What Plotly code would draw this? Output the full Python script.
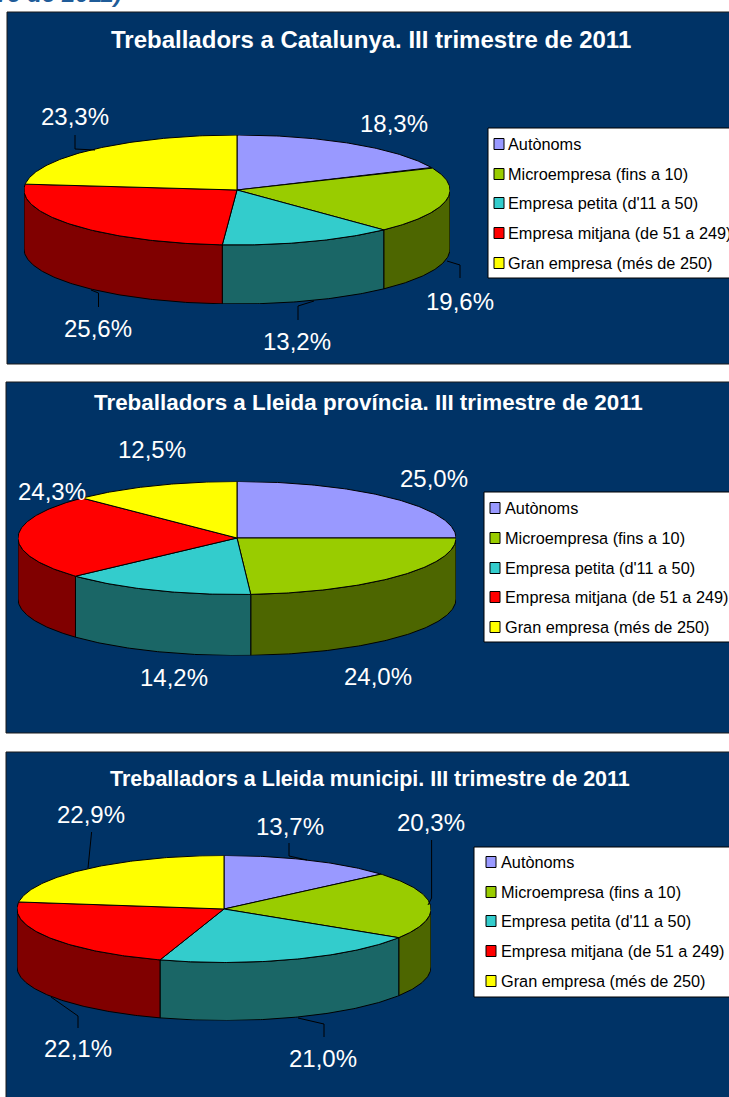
import math
import plotly.graph_objects as go

W, H = 729, 1097

# ---- data ----
categories = ["Autònoms", "Microempresa (fins a 10)", "Empresa petita (d'11 a 50)",
              "Empresa mitjana (de 51 a 249)", "Gran empresa (més de 250)"]
catalunya = [18.3, 19.6, 13.2, 25.6, 23.3]
lleida_provincia = [25.0, 24.0, 14.2, 24.3, 12.5]
lleida_municipi = [13.7, 20.3, 21.0, 22.1, 22.9]
titles = ["Treballadors a Catalunya. III trimestre de 2011",
          "Treballadors a Lleida província. III trimestre de 2011",
          "Treballadors a Lleida municipi. III trimestre de 2011"]
series = [catalunya, lleida_provincia, lleida_municipi]

# ---- style / layout (pixel positions of the frames) ----
top_colors = ["#9999FF", "#99CC00", "#33CCCC", "#FF0000", "#FFFF00"]
side_colors = ["#4D4D80", "#4D6600", "#1A6666", "#800000", "#808000"]
NAVY = "#003366"
panels = [
    dict(x0=7, y0=12, y1=364, cx=237, cy=190, rx=213, ry=55, depth=59, title_x=371, title_y=40, title_size=24,
         legend=(488, 128, 278), swatch_x=494, text_x=506, rows=[144, 174, 203, 233, 263],
         labels=[(394, 124), (460, 301), (297, 341), (98, 329), (75, 117)],
         leaders=[[], [(447, 261), (460, 265), (460, 278)], [(298, 320), (298, 306), (314, 301)],
                  [(98.5, 307), (98.5, 293), (91, 290)], [(75, 135), (75, 149), (95, 150)]]),
    dict(x0=6, y0=382, y1=733, cx=237, cy=538, rx=219, ry=56.5, depth=61, title_x=368.5, title_y=402, title_size=22.4,
         legend=(484, 492, 642), swatch_x=490, text_x=503, rows=[508, 538, 568, 597, 627],
         labels=[(434, 478), (378, 676), (174, 677), (52, 491), (152, 450)],
         leaders=[[], [], [], [], []]),
    dict(x0=6, y0=752, y1=1110, cx=224, cy=909, rx=207, ry=53.5, depth=58, title_x=370, title_y=779, title_size=21.5,
         legend=(474, 847, 997), swatch_x=486, text_x=499, rows=[862, 892, 921, 951, 981],
         labels=[(290, 826), (431, 822), (323, 1058), (78, 1048), (91, 814)],
         leaders=[[(289, 843), (289, 856), (307, 860)], [(431.6, 840), (431.6, 898), (428, 905)],
                  [(324, 1037), (324, 1024), (298, 1018)], [(78, 1028), (78, 1016), (51, 997)],
                  [(91.6, 832), (88, 868)]]),
]
FONT = "Liberation Sans, Arial, sans-serif"


def px(x):
    return x / W


def py(y):
    return 1 - y / H


def arc(a0, a1, n=None):
    """Angles in degrees, clockwise from 12 o'clock."""
    n = n or max(2, int(abs(a1 - a0) * 1.5))
    return [a0 + (a1 - a0) * i / n for i in range(n + 1)]


fig = go.Figure()
shapes = []
annotations = []

for idx, (p, vals, title) in enumerate(zip(panels, series, titles)):
    suffix = "" if idx == 0 else str(idx + 1)
    xa, ya = f"xaxis{suffix}", f"yaxis{suffix}"
    # axes in unit-pie coordinates: x in [-1, 1] over the ellipse width
    lo_y = p["cy"] - p["ry"]
    hi_y = p["cy"] + p["ry"] + p["depth"]
    dunit = p["depth"] / p["ry"]
    fig.update_layout({
        xa: dict(domain=[px(p["cx"] - p["rx"]), px(p["cx"] + p["rx"])], range=[-1, 1], visible=False, fixedrange=True),
        ya: dict(domain=[py(hi_y), py(lo_y)], range=[-1 - dunit, 1], visible=False, fixedrange=True),
    })
    xref, yref = f"x{suffix}", f"y{suffix}"

    # panel background
    shapes.append(dict(type="rect", xref="paper", yref="paper", layer="below",
                       x0=px(p["x0"]), x1=px(W + 20), y0=py(p["y1"]), y1=py(p["y0"]),
                       fillcolor=NAVY, line=dict(color="#1a1a1a", width=1)))

    # slices from values
    total = sum(vals)
    cum = 0.0
    angles = []
    for v in vals:
        angles.append((cum / total * 360, (cum + v) / total * 360))
        cum += v

    # front wall
    for (a0, a1), col, name in zip(angles, side_colors, categories):
        s0, s1 = max(a0, 90), min(a1, 270)
        if s1 <= s0:
            continue
        t = arc(s0, s1)
        xs = [math.sin(math.radians(a)) for a in t]
        ys = [math.cos(math.radians(a)) for a in t]
        fig.add_trace(go.Scatter(
            x=xs + xs[::-1] + xs[:1],
            y=ys + [y - dunit for y in ys[::-1]] + ys[:1],
            mode="lines", fill="toself", fillcolor=col,
            line=dict(color="black", width=1), xaxis=xref, yaxis=yref,
            showlegend=False, hoverinfo="skip", cliponaxis=False))

    # top wedges
    for (a0, a1), col, name, v in zip(angles, top_colors, categories, vals):
        t = arc(a0, a1)
        xs = [math.sin(math.radians(a)) for a in t]
        ys = [math.cos(math.radians(a)) for a in t]
        fig.add_trace(go.Scatter(
            x=[0] + xs + [0], y=[0] + ys + [0],
            mode="lines", fill="toself", fillcolor=col,
            line=dict(color="black", width=1), xaxis=xref, yaxis=yref,
            name=name, showlegend=False, cliponaxis=False,
            hovertemplate=f"{name}: {v}%<extra></extra>"))

    # title
    annotations.append(dict(text=f"<b>{title}</b>", xref="paper", yref="paper",
                            x=px(p["title_x"]), y=py(p["title_y"]), xanchor="center", yanchor="middle",
                            showarrow=False, font=dict(family=FONT, size=p["title_size"], color="white")))

    # value labels
    for v, (lx, ly) in zip(vals, p["labels"]):
        annotations.append(dict(text=f"{v:.1f}%".replace(".", ","), xref="paper", yref="paper",
                                x=px(lx), y=py(ly), xanchor="center", yanchor="middle",
                                showarrow=False, font=dict(family=FONT, size=24, color="white")))

    # leader lines
    for pts in p["leaders"]:
        if pts:
            path = "M " + " L ".join(f"{px(a)} {py(b)}" for a, b in pts)
            shapes.append(dict(type="path", xref="paper", yref="paper", path=path,
                               line=dict(color="black", width=1)))

    # legend box, clipped by the page at right
    bx, by0, by1 = p["legend"]
    shapes.append(dict(type="rect", xref="paper", yref="paper",
                       x0=px(bx), x1=px(W + 20), y0=py(by1), y1=py(by0),
                       fillcolor="white", line=dict(color="black", width=1)))
    for name, col, ry_ in zip(categories, top_colors, p["rows"]):
        shapes.append(dict(type="rect", xref="paper", yref="paper",
                           x0=px(p["swatch_x"]), x1=px(p["swatch_x"] + 10),
                           y0=py(ry_ + 5.5), y1=py(ry_ - 5.5),
                           fillcolor=col, line=dict(color="black", width=1)))
        annotations.append(dict(text=name, xref="paper", yref="paper",
                                x=px(p["text_x"]), y=py(ry_), xanchor="left", yanchor="middle",
                                showarrow=False, font=dict(family=FONT, size=16.3, color="black")))

# clipped heading line above the first panel
annotations.append(dict(text="<b><i>re de 2011)</i></b>", xref="paper", yref="paper",
                        x=px(124), y=py(9), xanchor="right", yanchor="bottom",
                        showarrow=False, font=dict(family=FONT, size=24, color="#1F5C99")))

fig.update_layout(width=W, height=H, margin=dict(l=0, r=0, t=0, b=0),
                  paper_bgcolor="white", plot_bgcolor="rgba(0,0,0,0)",
                  showlegend=False, shapes=shapes, annotations=annotations)
fig.write_html("out.html", config={"displayModeBar": False},
               post_script="document.body.style.margin='0';document.documentElement.style.overflow='hidden';")
